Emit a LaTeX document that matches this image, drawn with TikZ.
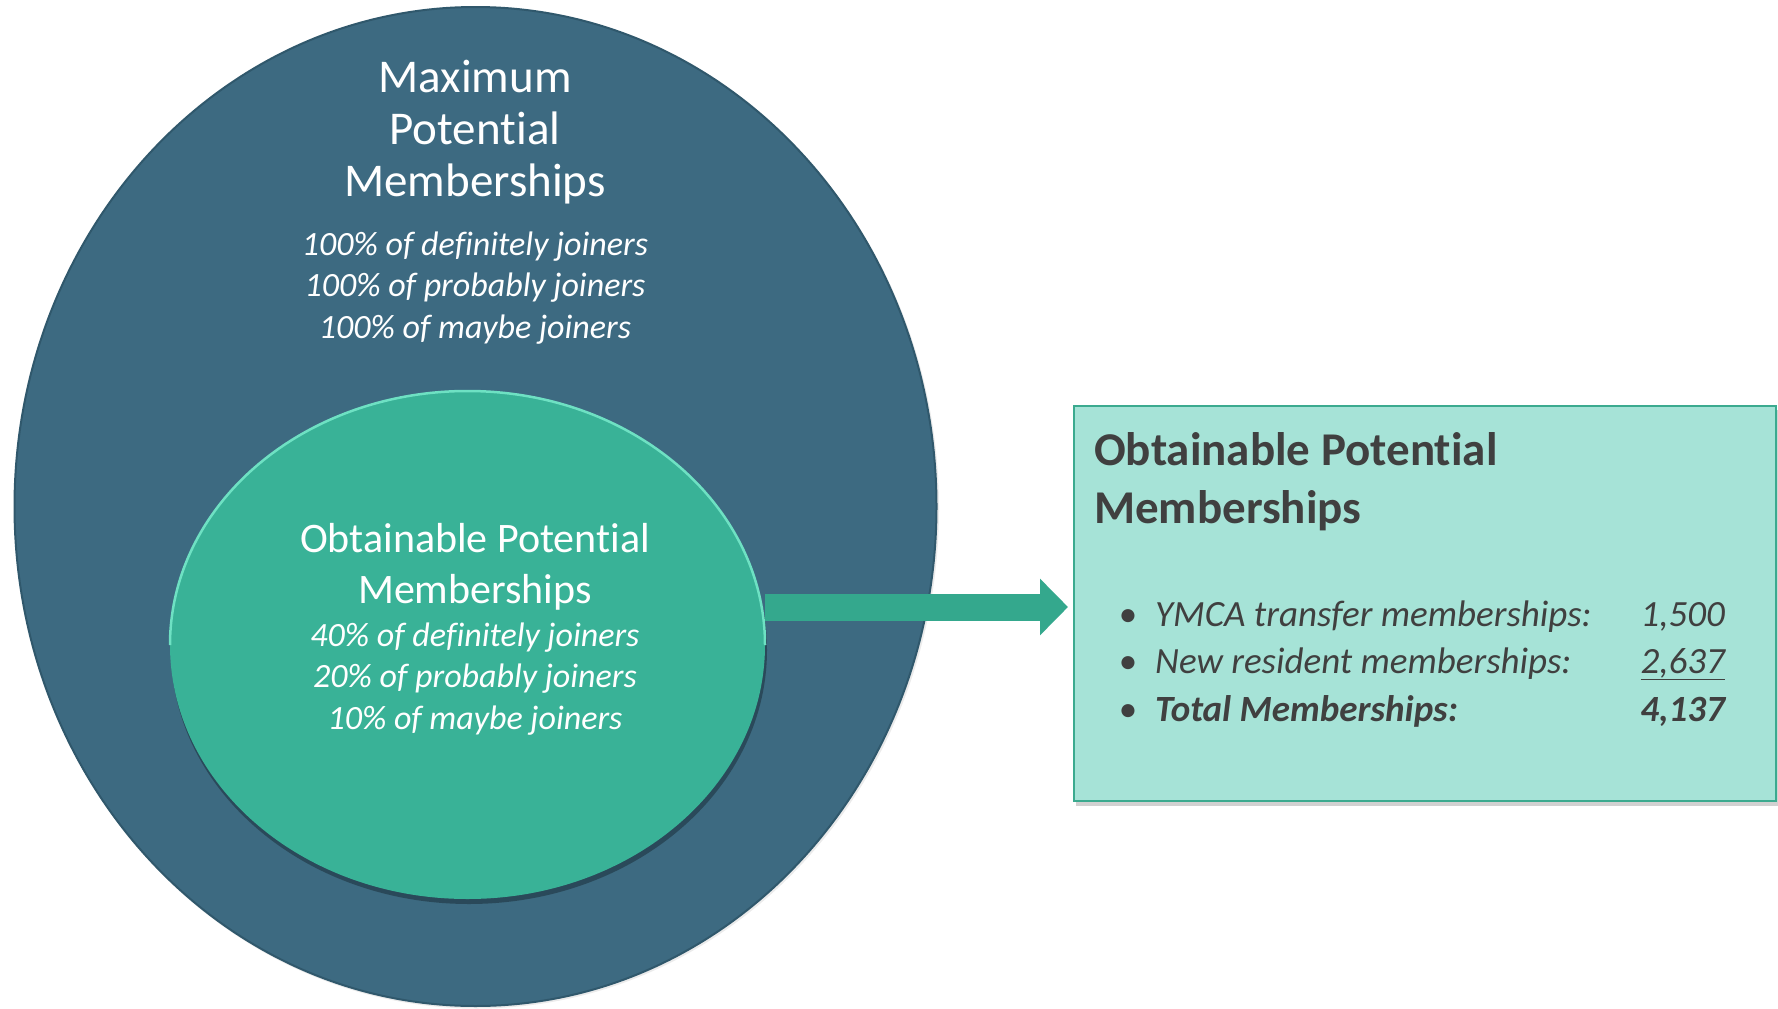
\documentclass[tikz,border=0pt]{standalone}
\usepackage{fontspec}
\setmainfont{Carlito}[Ligatures=NoCommon]
\usetikzlibrary{shapes.geometric,arrows.meta}
\definecolor{outerblue}{RGB}{61,106,129}
\definecolor{outerrim}{RGB}{48,88,108}
\definecolor{innergreen}{RGB}{57,178,151}
\definecolor{innerlight}{RGB}{110,225,195}
\definecolor{arrowgreen}{RGB}{52,168,141}
\definecolor{boxfill}{RGB}{166,227,215}
\definecolor{boxborder}{RGB}{59,170,143}
\definecolor{textgray}{RGB}{64,64,64}
\tikzset{
  blob/.style={ellipse, inner sep=0pt, outer sep=0pt},
  bigtitle/.style={text=white, align=center, font=\fontsize{47}{52}\selectfont},
  midtitle/.style={text=white, align=center, font=\fontsize{42}{51}\selectfont},
  pctlines/.style={text=white, align=center, font=\fontsize{34}{41.5}\selectfont\itshape},
  boxtitle/.style={text=textgray, align=left, font=\fontsize{47}{58}\selectfont\bfseries, anchor=base west, inner sep=0pt},
  itemtext/.style={text=textgray, font=\fontsize{37}{47}\selectfont\itshape, anchor=base west, inner sep=0pt},
  itemnum/.style={text=textgray, font=\fontsize{37}{47}\selectfont\itshape, anchor=base east, inner sep=0pt},
  bulletmark/.style={text=textgray, font=\fontsize{37}{47}\selectfont, anchor=base, inner sep=0pt},
  blockarrow/.style={draw=arrowgreen, line width=27pt, -{Triangle[length=28pt,width=55pt]}}
}
\begin{document}
\begin{tikzpicture}[x=1pt,y=-1pt]
\useasboundingbox[fill=white] (0,0) rectangle (1778,1009);
% outer ellipse
\fill[black, opacity=0.08] (477,508.5) ellipse [x radius=462pt, y radius=500pt];
\node[blob, fill=outerblue, draw=outerrim, line width=2pt, minimum width=922pt, minimum height=999pt] (outer) at (475.5,506.5) {};
% inner ellipse
\fill[black, opacity=0.3] (469,650) ellipse [x radius=298pt, y radius=254pt];
\node[blob, fill=innergreen, minimum width=595pt, minimum height=508pt] (inner) at (467.5,645) {};
\draw[innerlight, line width=2.5pt] (inner.west) arc[start angle=180, end angle=0, x radius=297.5pt, y radius=254pt];
% texts in ellipses (base = baseline of last line)
\node[bigtitle, anchor=base, inner sep=0pt] (maxtitle) at (475,196) {Maximum\\Potential\\Memberships};
\node[pctlines, anchor=base, inner sep=0pt] (maxpct) at (475,338) {100\% of definitely joiners\\100\% of probably joiners\\100\% of maybe joiners};
\node[midtitle, anchor=base, inner sep=0pt] (obttitle) at (475,603) {Obtainable Potential\\Memberships};
\node[pctlines, anchor=base, inner sep=0pt] (obtpct) at (475,729) {40\% of definitely joiners\\20\% of probably joiners\\10\% of maybe joiners};
% box
\fill[black, opacity=0.18] (1076,410) rectangle (1778,806);
\node[rectangle, fill=boxfill, draw=boxborder, line width=2pt, minimum width=702pt, minimum height=395pt, inner sep=0pt] (box) at (1425,603.5) {};
\node[boxtitle] (boxhead) at (1094,523) {Obtainable Potential\\Memberships};
\node[bulletmark] (b1) at (1128,626) {•};
\node[bulletmark] (b2) at (1128,673.5) {•};
\node[bulletmark] (b3) at (1128,721) {•};
\node[itemtext] (t1) at (1155,626) {YMCA transfer memberships:};
\node[itemtext] (t2) at (1155,673.5) {New resident memberships:};
\node[itemtext, font=\fontsize{37}{47}\selectfont\bfseries\itshape] (t3) at (1155,721) {Total Memberships:};
\node[itemnum] (n1) at (1725,626) {1,500};
\node[itemnum] (n2) at (1725,673.5) {\underline{2,637}};
\node[itemnum, font=\fontsize{37}{47}\selectfont\bfseries\itshape] (n3) at (1725,721) {4,137};
% arrow
\coordinate (a0) at ([yshift=38pt]inner.east);
\draw[blockarrow, shorten >=5pt] (a0) -- (a0 -| box.west);
\end{tikzpicture}
\end{document}
